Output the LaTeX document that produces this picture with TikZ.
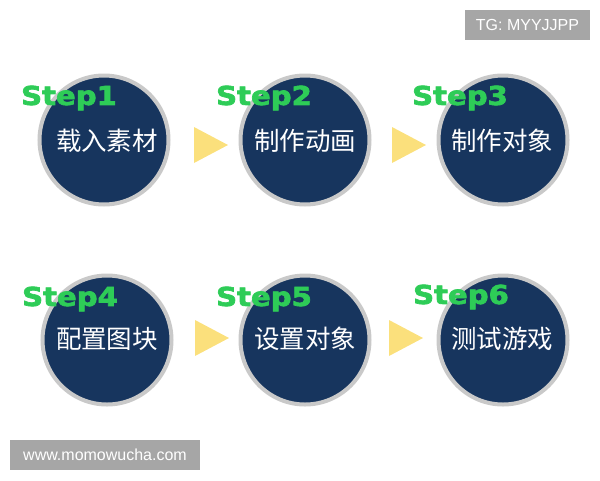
\documentclass[tikz,border=0pt]{standalone}
\usepackage{fontspec}
\setmainfont{Liberation Sans}
\newfontfamily\cjk{Noto Sans CJK SC}
\newfontfamily\stepfont[FakeBold=2.5]{DejaVu Sans Bold}
\definecolor{navy}{HTML}{17355E}
\definecolor{ring}{HTML}{C9C9C9}
\definecolor{tri}{HTML}{FBE07C}
\definecolor{stepgreen}{HTML}{2ECC57}
\definecolor{tag}{HTML}{A6A6A6}
\begin{document}
\begin{tikzpicture}[x=1pt,y=-1pt,
  disc/.style={circle,fill=navy,draw=ring,line width=4pt,minimum size=129pt,inner sep=0pt},
  label/.style={text=white,font=\cjk\fontsize{25.5}{25.5}\selectfont},
  steplbl/.style={text=stepgreen,font=\stepfont\fontsize{26}{26}\selectfont,xscale=1.12,inner sep=0pt},
  arrowtri/.style={fill=tri,draw=none},
  tagtext/.style={text=white,font=\fontsize{16}{16}\selectfont}]
\useasboundingbox (0,0) rectangle (600,480);
% circles
\node[disc] (c1) at (104,140) {};
\node[disc] (c2) at (305,140) {};
\node[disc] (c3) at (503,140) {};
\node[disc] (c4) at (107,340) {};
\node[disc] (c5) at (305,340) {};
\node[disc] (c6) at (503,340) {};
% texts
\node[label] (t1) at (107,141) {载入素材};
\node[label] (t2) at (305,141) {制作动画};
\node[label] (t3) at (502,141) {制作对象};
\node[label] (t4) at (107,339) {配置图块};
\node[label] (t5) at (305,339) {设置对象};
\node[label] (t6) at (502,339) {测试游戏};
% step labels
\node[steplbl] (s1) at (69,98) {Step1};
\node[steplbl] (s2) at (264,98) {Step2};
\node[steplbl] (s3) at (460,98) {Step3};
\node[steplbl] (s4) at (70,299) {Step4};
\node[steplbl] (s5) at (264,299) {Step5};
\node[steplbl] (s6) at (461,297) {Step6};
% triangles
\fill[arrowtri] (194,127) -- (228,145) -- (194,163) -- cycle;
\fill[arrowtri] (392,127) -- (426,145) -- (392,163) -- cycle;
\fill[arrowtri] (195,320) -- (229,338) -- (195,356) -- cycle;
\fill[arrowtri] (389,320) -- (423,338) -- (389,356) -- cycle;
% tags
\fill[tag] (465,10) rectangle (590,40);
\node[tagtext] (tg) at (527.5,25) {TG: MYYJJPP};
\fill[tag] (10,440) rectangle (200,470);
\node[tagtext] (www) at (105,455) {www.momowucha.com};
\end{tikzpicture}
\end{document}
